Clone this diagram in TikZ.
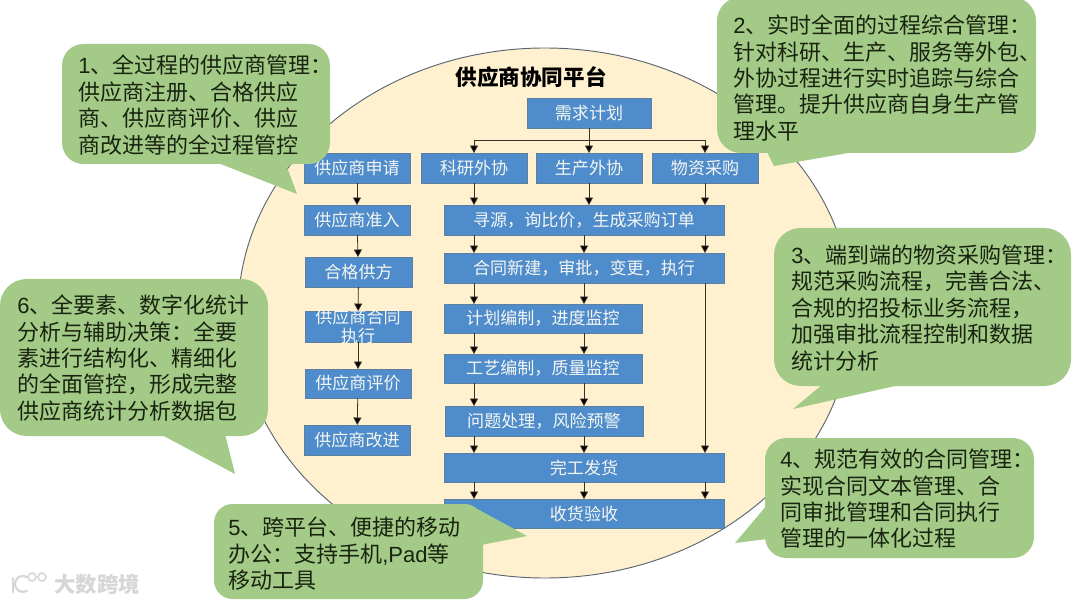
\documentclass[tikz,border=0pt]{standalone}
\usepackage{fontspec}
\setmainfont{Noto Sans CJK SC}
\newfontfamily\lat{Liberation Sans}
\usetikzlibrary{arrows.meta}
\definecolor{cream}{HTML}{FFF1CF}
\definecolor{greenfill}{HTML}{A4CA88}
\definecolor{bluefill}{HTML}{4F8CCB}
\definecolor{blueedge}{HTML}{5F7F9F}
\definecolor{edgegrey}{HTML}{5B6570}
\definecolor{darktext}{HTML}{18240F}
\definecolor{boxtext}{HTML}{F4F6F2}
\definecolor{flowline}{HTML}{3B3226}
\definecolor{wm}{HTML}{D6D6D6}
\tikzset{
  flowbox/.style={draw=blueedge,line width=0.6pt,fill=bluefill,text=boxtext,inner sep=0pt,outer sep=0pt,font=\fontsize{12.8}{14}\selectfont},
  arr/.style={draw=flowline,line width=0.6pt,-{Triangle[length=5.6pt,width=6pt,fill=black]}},
  plain/.style={draw=flowline,line width=0.7pt},
  callout/.style={fill=greenfill},
  calltext/.style={text=darktext,anchor=west,align=left,inner sep=0pt,font=\fontsize{16.5}{19.8}\selectfont},
}
\newcommand\bx[6]{\node[flowbox,minimum width=(#4-#2)*0.75pt,minimum height=(#5-#3)*0.75pt] (#1) at ({(#2+#4)/2},{(#3+#5)/2}) {#6};}
\newcommand\cbub[5]{\fill[callout,rounded corners=#5] (#1,#2) rectangle (#3,#4);}
\begin{document}
\begin{tikzpicture}[x=0.75pt,y=-0.75pt]
\useasboundingbox (0,0) rectangle (1080,605);
\fill[white] (0,0) rectangle (1080,605);
% platform ellipse
\draw[edgegrey,line width=0.7pt,fill=cream] (545,313) ellipse [x radius=307,y radius=265];
\node[font=\fontsize{16.2}{18}\selectfont\bfseries,text=black,inner sep=0pt] (title) at (531,77) {供应商协同平台};
% flow boxes
\bx{req}{527}{98}{651}{128}{需求计划}
\bx{sci}{421}{153}{527}{183}{科研外协}
\bx{prod}{536}{153}{642}{183}{生产外协}
\bx{mat}{652}{153}{758}{183}{物资采购}
\bx{s1}{304}{153}{410}{183}{供应商申请}
\bx{s2}{304}{205}{410}{235}{供应商准入}
\bx{s3}{305}{257}{412}{287}{合格供方}
\bx{s4}{305}{311}{411}{342}{}
\node[text=boxtext,inner sep=0pt,align=center,font=\fontsize{12.8}{13.6}\selectfont] (s4t) at (s4.center) {供应商合同\\执行};
\bx{s5}{305}{369}{411}{398}{供应商评价}
\bx{s6}{304}{425}{410}{455}{供应商改进}
\bx{m1}{444}{205}{724}{235}{寻源，询比价，生成采购订单}
\bx{m2}{444}{253}{724}{283}{合同新建，审批，变更，执行}
\bx{m3}{444}{304}{642}{333}{计划编制，进度监控}
\bx{m4}{444}{354}{642}{383}{工艺编制，质量监控}
\bx{m5}{445}{406}{643}{436}{问题处理，风险预警}
\bx{m6}{444}{453}{724}{482}{完工发货}
\bx{m7}{444}{499}{724}{528}{收货验收}
% connector guides
\coordinate (bus) at (589,140);
\coordinate (xa) at (474,0);
\coordinate (xb) at (584,0);
\coordinate (xc) at (705,0);
\draw[plain] (req.south) -- (bus);
\draw[arr] (bus) -| (sci.north);
\draw[arr] (bus) -| (prod.north);
\draw[arr] (bus) -| (mat.north);
\draw[arr] (sci.south) -- (sci.south |- m1.north);
\draw[arr] (prod.south) -- (prod.south |- m1.north);
\draw[arr] (mat.south) -- (mat.south |- m1.north);
\foreach \up/\dn in {m1/m2,m2/m3,m3/m4,m4/m5,m5/m6,m6/m7}{
  \draw[arr] (\up.south -| xa) -- (\dn.north -| xa);
  \draw[arr] (\up.south -| xb) -- (\dn.north -| xb);
}
\draw[arr] (m1.south -| xc) -- (m2.north -| xc);
\draw[arr] (m2.south -| xc) -- (m6.north -| xc);
\draw[arr] (m6.south -| xc) -- (m7.north -| xc);
\draw[arr] (s1) -- (s2);
\draw[arr] (s2) -- (s3);
\draw[arr] (s3) -- (s4);
\draw[arr] (s4) -- (s5);
\draw[arr] (s5) -- (s6);
% callouts
\cbub{62}{44}{330}{164}{16pt}
\fill[callout] (218,163) -- (297,194) -- (287,167) -- (325,150) -- (300,150) -- cycle;
\node[calltext] (c1) at (78,105) {{\lat 1}、全过程的供应商管理：\\供应商注册、合格供应\\商、供应商评价、供应\\商改进等的全过程管控};
\cbub{717}{-3}{1036}{153}{18pt}
\fill[callout] (766,150) -- (774,166) -- (848,153) -- (848,150) -- cycle;
\node[calltext] (c2) at (733,78) {{\lat 2}、实时全面的过程综合管理：\\针对科研、生产、服务等外包、\\外协过程进行实时追踪与综合\\管理。提升供应商自身生产管\\理水平};
\cbub{774}{228}{1071}{386}{20pt}
\fill[callout] (823,384) -- (793,409) -- (895,386) -- (895,384) -- cycle;
\node[calltext] (c3) at (791,308) {{\lat 3}、端到端的物资采购管理：\\规范采购流程，完善合法、\\合规的招投标业务流程，\\加强审批流程控制和数据\\统计分析};
\cbub{765}{438}{1034}{558}{16pt}
\fill[callout] (767,505) -- (735,543) -- (767,539) -- cycle;
\node[calltext] (c4) at (780,499) {{\lat 4}、规范有效的合同管理：\\实现合同文本管理、合\\同审批管理和合同执行\\管理的一体化过程};
\cbub{214}{504}{483}{599}{14pt}
\fill[callout] (470,505) -- (527,536) -- (481,545) -- cycle;
\node[calltext] (c5) at (228,554) {{\lat 5}、跨平台、便捷的移动\\办公：支持手机{\lat ,Pad}等\\移动工具};
\cbub{0}{279}{268}{436}{20pt}
\fill[callout] (160,434) -- (235,474) -- (225,434) -- cycle;
\node[calltext] (c6) at (17,358) {{\lat 6}、全要素、数字化统计\\分析与辅助决策：全要\\素进行结构化、精细化\\的全面管控，形成完整\\供应商统计分析数据包};
% watermark
\draw[wm,line width=1.6pt,line cap=round] (13,578) -- (13,592);
\draw[wm,line width=1.6pt,line cap=round] (27,577) arc [start angle=-60,end angle=-300,radius=8];
\draw[wm,line width=1.2pt] (32,577) circle [radius=4];
\draw[wm,line width=1.2pt] (42,577) circle [radius=4];
\node[text=wm,inner sep=0pt,font=\fontsize{16}{18}\selectfont\bfseries] (wmark) at (97,584) {大数跨境};
\end{tikzpicture}
\end{document}
